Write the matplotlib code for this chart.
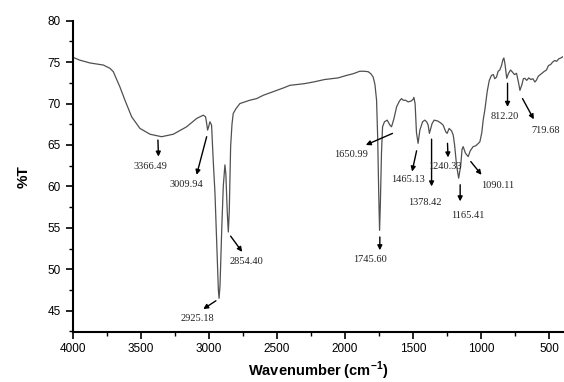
import numpy as np
import matplotlib
matplotlib.use("Agg")
import matplotlib.pyplot as plt
from matplotlib.ticker import MultipleLocator

# FTIR spectrum (wavenumber cm-1, %T)
wavenumber = [
    4000, 3950, 3873, 3775, 3726, 3702, 3653, 3616, 3567, 3506, 3432, 3347,
    3261, 3163, 3090, 3041, 3024, 3016, 3009, 3000, 2992, 2980, 2968, 2955,
    2940, 2930, 2925, 2918, 2905, 2894, 2882, 2875, 2865, 2857, 2850, 2840,
    2830, 2821, 2800, 2772, 2700, 2649, 2600, 2550, 2502, 2450, 2405, 2350,
    2300, 2233, 2150, 2100, 2050, 1988, 1940, 1891, 1860, 1830, 1810, 1793,
    1780, 1768, 1760, 1752, 1746, 1740, 1732, 1724, 1710, 1690, 1670, 1658,
    1640, 1621, 1600, 1585, 1572, 1555, 1536, 1515, 1500, 1494, 1485, 1475,
    1463, 1450, 1430, 1414, 1400, 1389, 1380, 1360, 1345, 1320, 1300, 1279,
    1260, 1250, 1235, 1217, 1205, 1195, 1180, 1165, 1150, 1140, 1132, 1115,
    1095, 1080, 1059, 1040, 1020, 1009, 995, 985, 973, 955, 940, 924, 910,
    900, 887, 875, 863, 850, 840, 833, 825, 812, 800, 784, 770, 755, 740,
    725, 715, 700, 690, 679, 665, 650, 635, 620, 605, 593, 580, 565, 550,
    535, 520, 505, 490, 475, 460, 445, 430, 415, 400,
]
transmittance = [
    75.6, 75.25, 74.9, 74.65, 74.25, 73.85, 72.0, 70.4, 68.4, 67.0, 66.3, 66.0,
    66.3, 67.2, 68.2, 68.6, 68.4, 67.6, 66.8, 67.3, 67.8, 67.4, 63.2, 59.2,
    52.0, 47.5, 46.5, 48.0, 55.0, 60.0, 62.6, 61.5, 57.0, 54.5, 57.0, 64.8,
    67.5, 68.8, 69.4, 70.0, 70.4, 70.6, 71.0, 71.3, 71.6, 71.9, 72.2, 72.3,
    72.4, 72.6, 72.9, 73.0, 73.1, 73.4, 73.6, 73.9, 73.9, 73.85, 73.6, 73.2,
    72.3, 70.4, 66.0, 59.0, 54.7, 58.0, 64.0, 67.2, 67.8, 68.0, 67.4, 67.2,
    68.2, 69.6, 70.3, 70.6, 70.4, 70.4, 70.2, 70.3, 70.5, 70.75, 70.0, 66.5,
    65.2, 66.8, 67.8, 68.0, 67.8, 67.4, 66.4, 67.6, 68.0, 67.9, 67.7, 67.4,
    66.6, 66.4, 67.0, 66.7, 66.2, 65.0, 62.5, 61.0, 62.5, 64.5, 64.8, 64.0,
    63.6, 64.3, 64.8, 64.9, 65.2, 65.4, 66.5, 68.0, 69.2, 71.5, 72.8, 73.4, 73.5,
    73.0, 73.2, 73.9, 74.05, 74.6, 75.3, 75.5, 74.8, 73.05, 73.6, 74.05, 73.8, 73.5, 73.65,
    72.5, 71.6, 72.3, 73.0, 73.05, 72.8, 73.1, 72.9, 73.0, 72.6, 72.85, 73.3, 73.5, 73.7,
    73.9, 74.05, 74.6, 74.7, 75.0, 75.2, 75.1, 75.4, 75.5, 75.65,
]

peak_labels = ["3366.49", "3009.94", "2925.18", "2854.40", "1745.60", "1650.99",
               "1465.13", "1378.42", "1240.33", "1165.41", "1090.11", "812.20", "719.68"]
# (arrow tail, arrow head, text centre) in data coordinates
arrow_tail = [(3374, 65.6), (3016, 66.0), (2948, 46.2), (2840, 54.0), (1744, 53.9),
              (1651, 66.4), (1474, 64.3), (1364, 65.7), (1247, 65.2), (1154, 60.2),
              (1076, 63.0), (806, 72.45), (696, 70.6)]
arrow_head = [(3370, 63.6), (3090, 61.4), (3041, 45.2), (2755, 52.1), (1744, 52.3),
              (1847, 65.0), (1507, 61.8), (1364, 60.0), (1243, 63.5), (1154, 58.2),
              (997, 61.4), (806, 69.6), (613, 68.1)]
text_pos = [(3430, 62.4), (3163, 60.2), (3082, 44.1), (2722, 50.9), (1817, 51.2),
            (1952, 63.9), (1536, 60.8), (1413, 58.1), (1267, 62.4), (1100, 56.55),
            (875, 60.1), (826, 68.4), (527, 66.8)]

fig = plt.figure(figsize=(5.64, 3.82), dpi=100)
ax = fig.add_axes([0.1289, 0.1317, 0.869, 0.8141])

ax.plot(wavenumber, transmittance, color="#505050", lw=0.9)

for lab, tail, head, tp in zip(peak_labels, arrow_tail, arrow_head, text_pos):
    ax.annotate("", xy=head, xytext=tail,
                arrowprops=dict(arrowstyle="-|>", color="black", lw=1.0,
                                mutation_scale=7, shrinkA=0, shrinkB=0))
    ax.text(tp[0], tp[1], lab, ha="center", va="center", fontsize=7.5,
            family="Liberation Serif", color="#222222")

ax.set_xlim(4000, 400)
ax.set_ylim(42.47, 80)
ax.xaxis.set_major_locator(MultipleLocator(500))
ax.xaxis.set_minor_locator(MultipleLocator(250))
ax.yaxis.set_major_locator(MultipleLocator(5))
ax.yaxis.set_minor_locator(MultipleLocator(2.5))
ax.set_yticks(np.arange(45, 81, 5))
ax.tick_params(which="major", direction="out", length=5, width=1.2, labelsize=8.5)
ax.tick_params(which="minor", direction="out", length=3, width=1.0)
for lbl in ax.get_xticklabels() + ax.get_yticklabels():
    lbl.set_family("Liberation Sans")

ax.spines["top"].set_visible(False)
ax.spines["right"].set_visible(False)
ax.spines["left"].set_linewidth(1.5)
ax.spines["bottom"].set_linewidth(1.5)

ax.set_xlabel("Wavenumber (cm$^{\\mathregular{-1}}$)", fontsize=10.5, fontweight="bold",
              family="Liberation Sans", labelpad=3)
ax.set_ylabel("%T", fontsize=11, fontweight="bold", family="Liberation Sans", labelpad=12)

fig.savefig("out.png", dpi=100)
